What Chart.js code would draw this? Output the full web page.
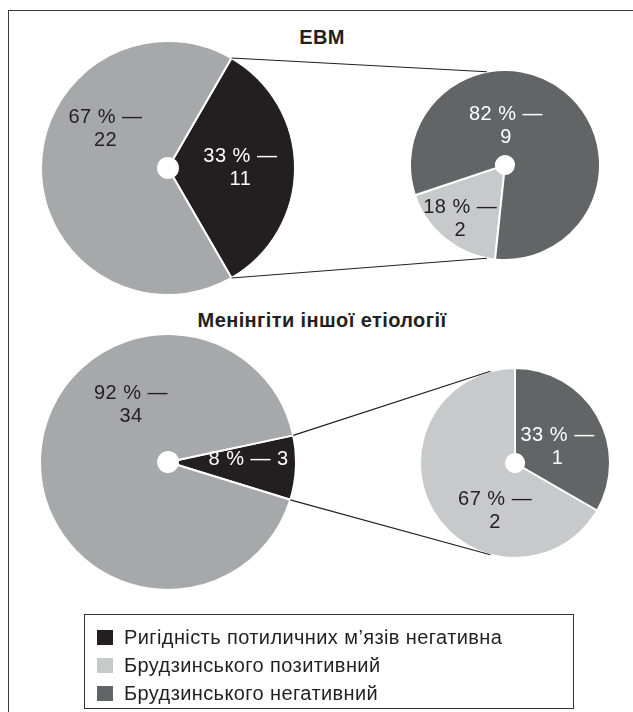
<!DOCTYPE html>
<html><head><meta charset="utf-8">
<script src="https://cdn.jsdelivr.net/npm/chart.js@4.4.1/dist/chart.umd.min.js"></script>
<style>
html,body{margin:0;padding:0;background:#fff;width:633px;height:712px;overflow:hidden;position:relative;}
#frame{position:absolute;left:8px;top:10px;width:700px;height:760px;border-left:1.5px solid #3a3a3a;border-top:1.5px solid #3a3a3a;}
canvas.pie{position:absolute;}
#overlay{position:absolute;left:0;top:0;pointer-events:none;}
.title{position:absolute;left:0;width:644px;text-align:center;font:bold 20px "Liberation Sans",Arial,sans-serif;color:#231f20;line-height:22px;letter-spacing:0.4px;}
#legend{position:absolute;left:84px;top:614px;width:488px;height:93px;border:1.5px solid #333;font:20px "Liberation Sans",Arial,sans-serif;color:#231f20;letter-spacing:0.4px;}
.row{position:absolute;left:12px;height:20px;line-height:20px;white-space:nowrap;}
.sw{position:absolute;left:0;top:3px;width:16px;height:15px;}
.tx{position:absolute;left:27px;top:0;}
</style></head>
<body>
<div id="frame"></div>
<div class="title" id="t0" style="top:26px"></div>
<div class="title" id="t1" style="top:309px"></div>
<canvas class="pie" id="c0" width="256" height="256" style="left:40px;top:40px"></canvas>
<canvas class="pie" id="c1" width="192" height="192" style="left:409px;top:69px"></canvas>
<canvas class="pie" id="c2" width="258" height="258" style="left:39px;top:333px"></canvas>
<canvas class="pie" id="c3" width="192" height="192" style="left:419px;top:367px"></canvas>
<canvas id="overlay" width="633" height="712"></canvas>
<div id="legend"></div>
<script>
// ---- data ----
const groupTitles = ['ЕВМ', 'Менінгіти іншої етіології'];
const legendLabels = ['Ригідність потиличних м’язів негативна', 'Брудзинського позитивний', 'Брудзинського негативний'];
const evmMain = [11, 22];          // [ригідність негативна, інші]
const evmSecond = [2, 9];          // [Брудзинського позитивний, Брудзинського негативний]
const otherMain = [3, 34];
const otherSecond = [2, 1];

// ---- styles ----
const C_BLACK = '#231f20', C_GRAY = '#a7a8aa', C_LIGHT = '#c8c9cb', C_DARK = '#636466';
const legendColors = [C_BLACK, C_LIGHT, C_DARK];
const FONT = '20px "Liberation Sans", Arial, sans-serif';

// label placement: [angle clockwise from top (deg), radius fraction, single line?]
const pies = [
  {id:'c0', data:evmMain, colors:[C_BLACK, C_GRAY], rotation:30, cutout:10,
   txt:['#fff', C_BLACK], pos:[[90,0.57,false],[302,0.58,false]]},
  {id:'c1', data:evmSecond, colors:[C_LIGHT, C_DARK], rotation:186, cutout:9,
   txt:[C_BLACK,'#fff'], pos:[[219.5,0.74,false],[1.5,0.41,false]]},
  {id:'c2', data:otherMain, colors:[C_BLACK, C_GRAY], rotation:78, cutout:10,
   txt:['#fff', C_BLACK], pos:[[88,0.63,true],[327,0.53,false]]},
  {id:'c3', data:otherSecond, colors:[C_LIGHT, C_DARK], rotation:120, cutout:9,
   txt:[C_BLACK,'#fff'], pos:[[202.4,0.55,false],[69,0.48,false]]}
];

document.getElementById('t0').textContent = groupTitles[0];
document.getElementById('t1').textContent = groupTitles[1];

const lg = document.getElementById('legend');
legendLabels.forEach((l,i)=>{
  const r = document.createElement('div');
  r.className='row'; r.style.top = (12 + i*28) + 'px';
  r.innerHTML = '<div class="sw" style="background:'+legendColors[i]+'"></div><div class="tx"></div>';
  r.querySelector('.tx').textContent = l;
  lg.appendChild(r);
});

const labelPlugin = {
  id:'sliceLabels',
  afterDatasetsDraw(chart){
    const cfg = chart.options.plugins.sliceLabels;
    const ctx = chart.ctx;
    const ds = chart.data.datasets[0].data;
    const total = ds.reduce((a,b)=>a+b,0);
    chart.getDatasetMeta(0).data.forEach((arc,i)=>{
      const [deg, rf, single] = cfg.pos[i];
      const a = (deg - 90) * Math.PI/180;
      const x = arc.x + Math.cos(a)*arc.outerRadius*rf;
      const y = arc.y + Math.sin(a)*arc.outerRadius*rf;
      const pct = Math.round(ds[i]/total*100);
      ctx.save();
      ctx.font = FONT; ctx.fillStyle = cfg.txt[i];
      if ('letterSpacing' in ctx) ctx.letterSpacing = '0.5px';
      ctx.textAlign='center'; ctx.textBaseline='middle';
      if (single) {
        ctx.fillText(pct + ' % — ' + ds[i], x, y);
      } else {
        ctx.fillText(pct + ' % —', x, y - 11.5);
        ctx.fillText(String(ds[i]), x, y + 11.5);
      }
      ctx.restore();
    });
  }
};

const charts = pies.map(p => new Chart(document.getElementById(p.id), {
  type:'doughnut',
  data:{ labels:p.data.map((_,i)=>String(i)), datasets:[{ data:p.data, backgroundColor:p.colors, borderColor:'#fff', borderWidth:2 }] },
  options:{
    responsive:false, animation:false, events:[], devicePixelRatio:1,
    rotation:p.rotation, cutout:p.cutout,
    plugins:{ legend:{display:false}, tooltip:{enabled:false}, sliceLabels:{pos:p.pos, txt:p.txt} }
  },
  plugins:[labelPlugin]
}));

// connector lines between main-pie slice and secondary pie
function canvasOffset(id){ const c=document.getElementById(id); return [c.offsetLeft, c.offsetTop]; }
const ov = document.getElementById('overlay').getContext('2d');
ov.strokeStyle = '#231f20'; ov.lineWidth = 1.2;
const spread = [11, 15];
[[0,1,'c0','c1'],[2,3,'c2','c3']].forEach(([mi, si, mid, sid], k)=>{
  const arc = charts[mi].getDatasetMeta(0).data[0];
  const sArc = charts[si].getDatasetMeta(0).data[0];
  const [mx, my] = canvasOffset(mid), [sx, sy] = canvasOffset(sid);
  const p1 = [mx + arc.x + Math.cos(arc.startAngle)*arc.outerRadius, my + arc.y + Math.sin(arc.startAngle)*arc.outerRadius];
  const p2 = [mx + arc.x + Math.cos(arc.endAngle)*arc.outerRadius, my + arc.y + Math.sin(arc.endAngle)*arc.outerRadius];
  const aTop = (-spread[k] - 90) * Math.PI/180, aBot = (180 + spread[k] - 90) * Math.PI/180;
  const q1 = [sx + sArc.x + Math.cos(aTop)*sArc.outerRadius, sy + sArc.y + Math.sin(aTop)*sArc.outerRadius];
  const q2 = [sx + sArc.x + Math.cos(aBot)*sArc.outerRadius, sy + sArc.y + Math.sin(aBot)*sArc.outerRadius];
  ov.beginPath(); ov.moveTo(p1[0],p1[1]); ov.lineTo(q1[0],q1[1]); ov.stroke();
  ov.beginPath(); ov.moveTo(p2[0],p2[1]); ov.lineTo(q2[0],q2[1]); ov.stroke();
});
</script>
</body></html>
